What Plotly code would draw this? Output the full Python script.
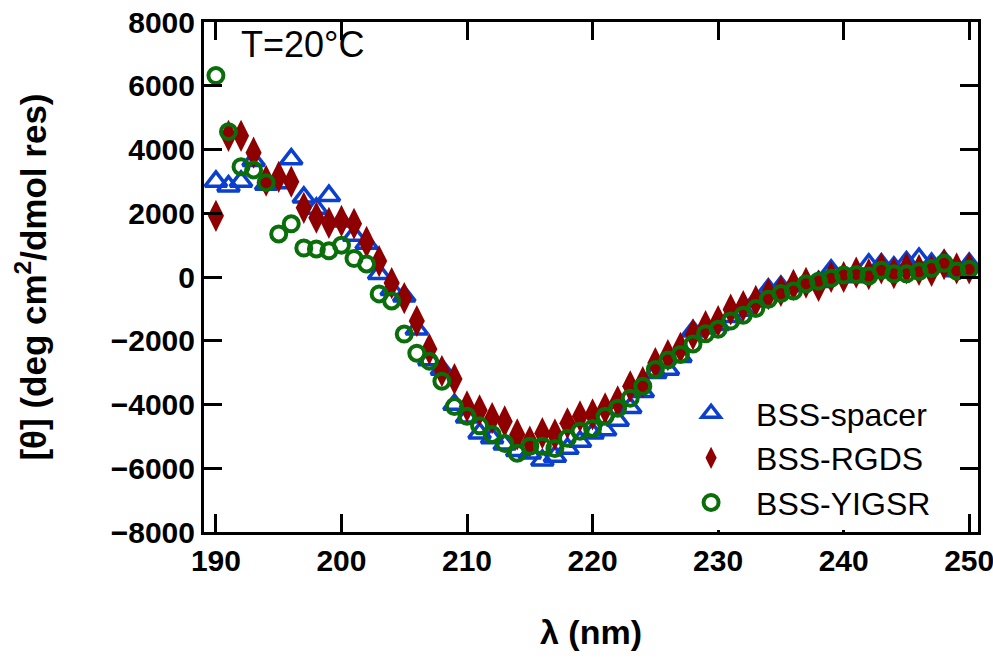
import plotly.graph_objects as go

wavelength = list(range(190, 251))

bss_spacer = [3000, 2850, 3000, 3650, 2900, 2950, 3700, 2500, 2150, 2550,
              1750, 1300, 1050, 100, -400, -600, -1640, -2600, -2900, -4000,
              -4400, -4900, -5050, -5250, -5450, -5530, -5750, -5630, -5380, -5160,
              -4900, -4800, -4500, -4100, -3600, -3000, -2900, -2500, -1700, -1600,
              -1500, -1250, -1050, -750, -390, -300, -280, -180, -150, 210,
              30, 0, 400, 400, 300, 470, 580, 420, 500, 190, 420]

bss_rgds = [1920, 4430, 4430, 3900, 3020, 3140, 2990, 2170, 1860, 1700,
            1760, 1670, 1100, 500, -190, -660, -1380, -2260, -2950, -3200,
            -4060, -4180, -4430, -4530, -4940, -5160, -4900, -4940, -4590, -4370,
            -4310, -4120, -3900, -3430, -3300, -2700, -2450, -2220, -1800, -1540,
            -1380, -1020, -910, -750, -540, -440, -250, -180, -280, 0,
            0, 140, 90, 270, 120, 270, 220, 190, 400, 270, 270]

bss_yigsr = [6320, 4560, 3460, 3360, 2960, 1350, 1670, 910, 880, 820,
             1000, 580, 410, -530, -750, -1790, -2390, -2640, -3270, -4060,
             -4370, -4670, -4940, -5220, -5530, -5310, -5310, -5380, -5060, -4840,
             -4750, -4370, -4120, -3800, -3430, -2900, -2600, -2430, -2100, -1780,
             -1640, -1380, -1200, -990, -700, -520, -440, -210, -130, -40,
             60, 80, 30, 210, 100, 100, 170, 270, 430, 190, 240]

x_ticks = [190, 200, 210, 220, 230, 240, 250]
y_ticks = [-8000, -6000, -4000, -2000, 0, 2000, 4000, 6000, 8000]

FONT = "Liberation Sans, Arial, sans-serif"

fig = go.Figure()
fig.add_trace(go.Scatter(
    x=wavelength, y=bss_spacer, mode="markers", name="BSS-spacer",
    marker=dict(symbol="triangle-up-open", size=19, color="#0a3fd0",
                line=dict(width=3.5, color="#0a3fd0"))))
fig.add_trace(go.Scatter(
    x=wavelength, y=bss_rgds, mode="markers", name="BSS-RGDS",
    marker=dict(symbol="diamond-tall", size=23, color="#8e0000",
                line=dict(width=0))))
fig.add_trace(go.Scatter(
    x=wavelength, y=bss_yigsr, mode="markers", name="BSS-YIGSR",
    marker=dict(symbol="circle-open", size=15, color="#0a6e0a",
                line=dict(width=4, color="#0a6e0a"))))

axis_common = dict(
    showline=True, linecolor="black", linewidth=3, mirror="ticks",
    ticks="inside", ticklen=18, tickwidth=3, tickcolor="black",
    showgrid=False, zeroline=False, automargin=False,
    ticklabeloverflow="allow",
    tickfont=dict(family=FONT, size=30, color="black", weight="bold"),
)

fig.update_layout(
    width=993, height=662,
    paper_bgcolor="white", plot_bgcolor="white",
    margin=dict(l=204, r=15, t=22, b=130),
    font=dict(family=FONT, color="black"),
    xaxis=dict(range=[189.05, 250.7], tickvals=x_ticks,
               title=dict(text="λ (nm)", standoff=45,
                          font=dict(family=FONT, size=34, weight="bold")),
               **axis_common),
    yaxis=dict(range=[-8000, 8000], tickvals=y_ticks,
               title=dict(text="[θ] (deg cm<sup>2</sup>/dmol res)", standoff=54,
                          font=dict(family=FONT, size=35, weight="bold")),
               **axis_common),
    legend=dict(x=0.597, y=0.004, xanchor="left", yanchor="bottom",
                bgcolor="white", borderwidth=0, itemwidth=80,
                font=dict(family=FONT, size=32, color="black"),
                tracegroupgap=0),
    showlegend=True,
    annotations=[dict(text="T=20°C", xref="paper", yref="paper",
                      x=0.045, y=0.955, xanchor="left", yanchor="middle",
                      showarrow=False,
                      font=dict(family=FONT, size=36, color="black"))],
)

fig.write_html("out.html", config={"displayModeBar": False},
               post_script="document.body.style.margin='0';document.body.style.overflow='hidden';")
